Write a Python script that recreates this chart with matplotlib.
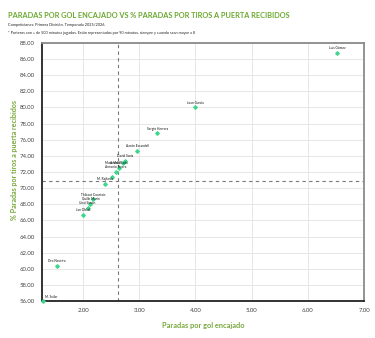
import matplotlib
matplotlib.use("Agg")
import matplotlib.pyplot as plt
from matplotlib.ticker import FormatStrFormatter, MultipleLocator

names = ["Luis Gómez", "Joan García", "Sergio Herrera", "Aarón Escandell", "David Soria",
         "Marc Vidal", "Andrei Radu", "Antonio Sivera", "", "M. Rajkovic",
         "Thibaut Courtois", "Guille Marín", "Unai Simón", "Jan Oblak", "Dro Naveiro", "M. Svilar"]
saves_per_goal = [6.52, 4.00, 3.32, 2.96, 2.75, 2.71, 2.64, 2.58, 2.51, 2.39,
                  2.18, 2.13, 2.08, 2.00, 1.53, 1.29]
save_pct = [86.8, 80.0, 76.8, 74.6, 73.4, 73.1, 72.5, 72.0, 71.4, 70.5,
            68.6, 68.1, 67.6, 66.7, 60.4, 56.0]
avg_x = 2.63
avg_y = 70.9

title = "PARADAS POR GOL ENCAJADO VS % PARADAS POR TIROS A PUERTA RECIBIDOS"
sub1 = "Competiciones: Primera División. Temporada 2025/2026."
sub2 = "* Porteros con + de 500 minutos jugados. Están representados por 90 minutos, siempre y cuando sean mayor a 8"
xlabel = "Paradas por gol encajado"
ylabel = "% Paradas por tiros a puerta recibidos"

fam = ["Lato", "DejaVu Sans"]
green_t = "#6aa82f"
pt_color = "#3dd68c"

fig = plt.figure(figsize=(3.75, 3.38), dpi=100)
ax = fig.add_axes([0.112, 0.109, 0.859, 0.764])

ax.set_xlim(1.27, 7.0)
ax.set_ylim(56, 88)
ax.xaxis.set_major_locator(MultipleLocator(1))
ax.yaxis.set_major_locator(MultipleLocator(2))
ax.xaxis.set_major_formatter(FormatStrFormatter("%.2f"))
ax.yaxis.set_major_formatter(FormatStrFormatter("%.2f"))
ax.tick_params(length=0, labelsize=4.3, colors="#444444", pad=5)
for lab in ax.get_xticklabels() + ax.get_yticklabels():
    lab.set_family(fam)
ax.grid(True, color="#e3e3e3", linewidth=0.6)
ax.set_axisbelow(True)

for s in ["left", "bottom"]:
    ax.spines[s].set_color("#222222")
    ax.spines[s].set_linewidth(1.3)
for s in ["top", "right"]:
    ax.spines[s].set_color("#8a8a8a")
    ax.spines[s].set_linewidth(1.3)

ax.axhline(avg_y, color="#777777", linestyle=(0, (3, 3)), linewidth=0.8, zorder=1)
ax.axvline(avg_x, color="#777777", linestyle=(0, (3, 3)), linewidth=0.8, zorder=1)

ax.scatter(saves_per_goal, save_pct, marker="D", s=3, color=pt_color, zorder=3, clip_on=False)
for n, x, y in zip(names, saves_per_goal, save_pct):
    if not n:
        continue
    if x < 1.4:
        ax.annotate(n, (x, y), xytext=(1.5, 1.5), textcoords="offset points",
                    fontsize=2.3, ha="left", va="bottom", family=fam, color="#111111")
    elif n == "Marc Vidal":
        ax.annotate(n, (x, y), xytext=(-1.5, 0), textcoords="offset points",
                    fontsize=2.3, ha="right", va="center", family=fam, color="#111111")
    else:
        ax.annotate(n, (x, y), xytext=(0, 2.0), textcoords="offset points",
                    fontsize=2.3, ha="center", va="bottom", family=fam, color="#111111")

ax.set_xlabel(xlabel, fontsize=5.3, color="#78a83c", fontweight="bold", family=fam)
ax.xaxis.set_label_coords(0.5, -0.08)
ax.set_ylabel(ylabel, fontsize=5.1, color="#78a83c", fontweight="bold", family=fam)
ax.yaxis.set_label_coords(-0.075, 0.547)

fig.text(0.021, 0.955, title, fontsize=5.3, color=green_t, fontweight="bold", family=fam, va="center")
fig.text(0.021, 0.927, sub1, fontsize=2.8, color="#222222", family=fam, va="center")
fig.text(0.021, 0.901, sub2, fontsize=2.7, color="#222222", family=fam, va="center")

fig.savefig("out.png", dpi=100)
